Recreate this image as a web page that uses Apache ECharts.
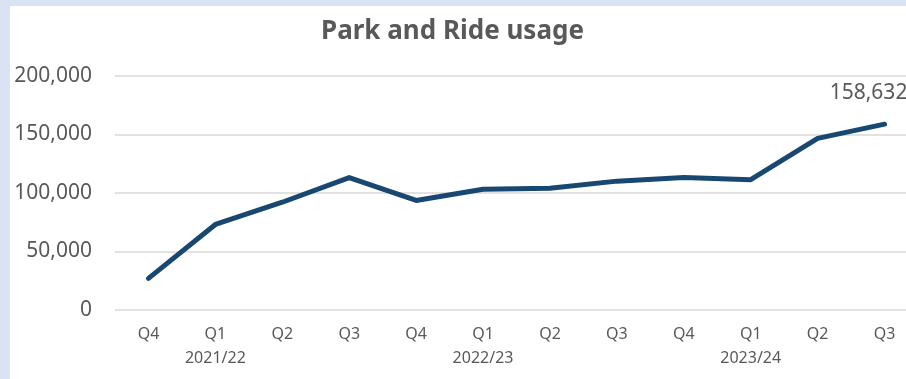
<!DOCTYPE html>
<html>
<head>
<meta charset="utf-8">
<script src="https://cdn.jsdelivr.net/npm/echarts@6/dist/echarts.min.js"></script>
<style>
  html, body { margin: 0; padding: 0; background: #dae3f3; width: 906px; height: 379px; overflow: hidden; }
  #chart { position: absolute; left: 10px; top: 6px; width: 896px; height: 373px; background: #ffffff; }
</style>
</head>
<body>
<div id="chart"></div>
<script>
// Quarterly Park and Ride usage
const quarters = ['Q4', 'Q1', 'Q2', 'Q3', 'Q4', 'Q1', 'Q2', 'Q3', 'Q4', 'Q1', 'Q2', 'Q3'];
const financialYears = ['', '2021/22', '', '', '', '2022/23', '', '', '', '2023/24', '', ''];
const usage = [27000, 73000, 92000, 113000, 93500, 103000, 104000, 110000, 113200, 111200, 146500, 158632];
const yTicks = [0, 50000, 100000, 150000, 200000];

const textColor = '#595959';
const fontFamily = '"Noto Sans", "Open Sans", sans-serif';
const lastIndex = usage.length - 1;

// Only the latest quarter carries a value label
const seriesData = usage.map((v, i) => i === lastIndex
  ? { value: v, symbol: 'circle', symbolSize: 2, itemStyle: { color: 'rgba(0,0,0,0)', borderWidth: 0 }, label: { show: true } }
  : { value: v, symbol: 'none' });

const chart = echarts.init(document.getElementById('chart'), null, { renderer: 'canvas' });
chart.setOption({
  backgroundColor: '#ffffff',
  animation: false,
  title: {
    text: 'Park and Ride usage',
    left: 306,
    top: 8,
    textStyle: { color: textColor, fontSize: 26, fontWeight: 'bold', fontFamily: fontFamily }
  },
  grid: { left: 105, width: 803, top: 69.7, bottom: 69, containLabel: false, outerBoundsMode: 'none' },
  xAxis: {
    type: 'category',
    data: quarters,
    boundaryGap: true,
    axisLine: { show: false },
    axisTick: { show: false },
    axisLabel: {
      interval: 0,
      margin: 12,
      color: textColor,
      fontSize: 16,
      lineHeight: 24,
      fontFamily: fontFamily,
      formatter: (q, i) => financialYears[i] ? q + '\n' + financialYears[i] : q
    }
  },
  yAxis: {
    type: 'value',
    min: yTicks[0],
    max: yTicks[yTicks.length - 1],
    interval: yTicks[1] - yTicks[0],
    axisLine: { show: false },
    axisTick: { show: false },
    splitLine: { lineStyle: { color: '#d9d9d9', width: 1.5 } },
    axisLabel: {
      margin: 23,
      color: textColor,
      fontSize: 21,
      fontFamily: fontFamily,
      formatter: v => v.toLocaleString('en-US')
    }
  },
  series: [{
    type: 'line',
    data: seriesData,
    showSymbol: true,
    showAllSymbol: true,
    smooth: false,
    clip: false,
    lineStyle: { color: '#184871', width: 5, cap: 'round', join: 'round' },
    label: {
      show: false,
      position: 'top',
      distance: 20,
      offset: [-16, 0],
      color: textColor,
      fontSize: 21,
      fontFamily: fontFamily,
      formatter: p => p.value.toLocaleString('en-US')
    }
  }]
});
</script>
</body>
</html>
